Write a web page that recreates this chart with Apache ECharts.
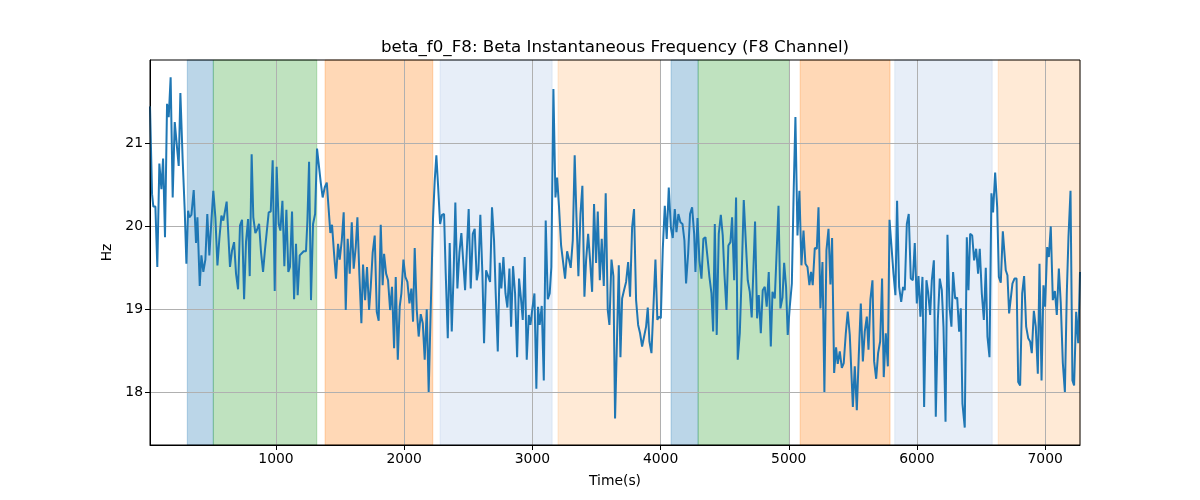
<!DOCTYPE html>
<html>
<head>
<meta charset="utf-8">
<script src="https://cdn.jsdelivr.net/npm/echarts@6/dist/echarts.min.js"></script>
<style>
html,body{margin:0;padding:0;background:#fff;}
#chart{width:1200px;height:500px;}
</style>
</head>
<body>
<div id="chart"></div>
<script>
// ---------- DATA ----------
const titleText = 'beta_f0_F8: Beta Instantaneous Frequency (F8 Channel)';
const xName = 'Time(s)';
const yName = 'Hz';
const xTicks = [1000, 2000, 3000, 4000, 5000, 6000, 7000];
const yTicks = [18, 19, 20, 21];
const xRange = [17, 7272];
const yRange = [17.36, 22.01];

const times = [
 17, 33, 43, 59, 74, 90, 106, 119, 134, 150, 163, 178, 194, 210, 225, 241, 254, 272, 288, 301, 314, 324, 340, 358, 376, 387, 405, 418, 433, 449, 464, 480, 496, 511, 527, 543, 558, 574, 589, 615,
 641, 657, 673, 688, 704, 719, 735, 751, 766, 782, 795, 810, 823, 839, 852, 868, 883, 899, 914, 927, 943, 959, 974, 990, 1005, 1021, 1034, 1050, 1065, 1081, 1096, 1109, 1125, 1141, 1156, 1169, 1185, 1200, 1216,
 1234, 1245, 1258, 1273, 1289, 1305, 1320, 1333, 1349, 1364, 1380, 1396, 1411, 1424, 1437, 1453, 1468, 1484, 1497, 1513, 1528, 1544, 1559, 1575, 1591, 1606, 1622, 1635, 1650, 1666, 1679, 1695, 1710, 1726, 1739, 1754, 1770, 1786, 1801, 1817, 1832,
 1843, 1859, 1874, 1890, 1905, 1921, 1934, 1950, 1965, 1978, 1994, 2009, 2025, 2041, 2056, 2069, 2082, 2098, 2113, 2129, 2145, 2160, 2176, 2191, 2207, 2225, 2238, 2251, 2264, 2280, 2295, 2311, 2324, 2340, 2355, 2371, 2386, 2399, 2415, 2431, 2446,
 2459, 2475, 2488, 2503, 2519, 2535, 2550, 2566, 2579, 2594, 2610, 2623, 2639, 2654, 2670, 2685, 2701, 2714, 2730, 2745, 2758, 2774, 2790, 2805, 2821, 2834, 2849, 2865, 2881, 2896, 2912, 2925, 2940, 2956, 2972, 2985, 3000, 3016, 3031, 3044,
 3057, 3073, 3089, 3104, 3120, 3135, 3148, 3164, 3180, 3193, 3208, 3224, 3239, 3255, 3271, 3284, 3299, 3315, 3330, 3344, 3359, 3375, 3390, 3406, 3419, 3435, 3450, 3466, 3481, 3497, 3510, 3526, 3541, 3557, 3572, 3588, 3601, 3617, 3632, 3645,
 3674, 3687, 3700, 3715, 3731, 3747, 3762, 3778, 3793, 3809, 3825, 3840, 3856, 3871, 3887, 3900, 3913, 3929, 3944, 3960, 3975, 3986, 4002, 4017, 4033, 4048, 4064, 4080, 4095, 4111, 4124, 4139, 4155, 4171, 4186, 4199, 4215, 4230, 4246, 4262, 4272,
 4288, 4303, 4319, 4334, 4350, 4366, 4381, 4397, 4410, 4423, 4438, 4454, 4470, 4485, 4498, 4514, 4529, 4545, 4558, 4574, 4589, 4602, 4618, 4633, 4649, 4665, 4680, 4696, 4711, 4724, 4737, 4753, 4766, 4782, 4797, 4813, 4828, 4844, 4860, 4873,
 4891, 4904, 4920, 4935, 4951, 4964, 4979, 4992, 5008, 5024, 5039, 5052, 5068, 5083, 5099, 5115, 5130, 5146, 5161, 5174, 5187, 5203, 5219, 5232, 5247, 5263, 5278, 5294, 5310, 5325, 5338, 5354, 5369, 5382, 5398, 5414, 5429, 5445, 5460, 5476,
 5500, 5515, 5531, 5546, 5562, 5578, 5593, 5609, 5622, 5637, 5653, 5666, 5682, 5697, 5713, 5728, 5741, 5757, 5773, 5786, 5801, 5817, 5832, 5845, 5861, 5877, 5892, 5905, 5921, 5936, 5952, 5968, 5983, 5999, 6012, 6027, 6043, 6056, 6074, 6087,
 6103, 6116, 6132, 6147, 6163, 6178, 6194, 6207, 6223, 6238, 6254, 6269, 6282, 6298, 6314, 6329, 6342, 6355, 6373, 6389, 6402, 6415, 6431, 6446, 6462, 6477, 6490, 6506, 6522, 6537, 6550, 6566, 6581, 6594, 6610, 6626, 6639, 6654, 6670,
 6693, 6706, 6719, 6732, 6745, 6761, 6777, 6790, 6805, 6821, 6836, 6852, 6868, 6883, 6896, 6912, 6927, 6943, 6956, 6972, 6987, 7000, 7016, 7029, 7044, 7060, 7076, 7091, 7107, 7122, 7138, 7154, 7169, 7182, 7198, 7213, 7226, 7242, 7258, 7272
];
const freqHz = [
 21.45, 20.39, 20.24, 20.24, 19.51, 20.76, 20.45, 20.82, 19.87, 21.48, 21.32, 21.80, 20.35, 21.26, 21.00, 20.73, 21.61, 20.80, 20.19, 19.55, 20.19, 20.11, 20.14, 20.44, 19.80, 20.11, 19.28, 19.65, 19.45, 19.60, 20.15, 19.65, 20.07, 20.43, 20.11, 19.53, 19.85, 20.13, 20.07, 20.30,
 19.51, 19.71, 19.81, 19.43, 19.24, 20.01, 20.08, 19.12, 19.81, 20.09, 19.40, 20.87, 20.11, 19.92, 19.96, 20.03, 19.69, 19.45, 19.72, 19.73, 20.17, 20.18, 20.80, 19.22, 20.72, 20.03, 19.95, 20.31, 19.52, 20.20, 19.45, 19.51, 20.18, 19.12, 19.79, 19.17, 19.65, 19.66, 19.70,
 19.70, 20.07, 20.78, 19.11, 20.03, 20.15, 20.94, 20.95, 20.53, 20.35, 20.47, 20.53, 20.51, 19.92, 20.02, 19.67, 19.37, 19.79, 19.60, 19.83, 20.17, 18.99, 19.85, 19.43, 20.05, 19.49, 19.75, 20.11, 19.43, 18.83, 19.54, 19.11, 19.51, 18.99, 19.27, 19.68, 19.89, 18.97, 18.86, 20.02, 19.29,
 19.67, 19.43, 19.35, 18.99, 19.27, 18.53, 19.39, 18.39, 19.03, 19.19, 19.60, 19.39, 19.33, 19.07, 19.25, 18.85, 19.74, 18.99, 18.67, 18.94, 18.83, 18.39, 19.00, 18.00, 19.00, 20.10, 20.55, 20.86, 20.50, 20.03, 20.14, 20.15, 19.43, 18.65, 19.80, 18.73, 19.45, 20.29, 19.25, 19.69, 19.92,
 19.93, 19.23, 19.25, 20.21, 19.25, 19.91, 19.97, 19.35, 19.47, 20.14, 19.43, 18.59, 19.47, 19.48, 19.33, 20.23, 19.83, 19.19, 18.49, 19.56, 19.25, 19.63, 19.19, 19.02, 19.49, 18.79, 19.52, 19.19, 18.42, 19.37, 19.11, 18.87, 19.63, 18.39, 18.93, 18.81, 19.01, 19.19, 18.04, 19.03,
 18.81, 19.04, 18.14, 20.07, 19.12, 19.19, 19.51, 21.66, 20.35, 20.59, 20.23, 19.77, 19.75, 19.37, 19.70, 19.61, 19.50, 19.83, 20.86, 20.11, 19.40, 20.15, 20.49, 19.15, 19.59, 19.91, 19.59, 19.21, 20.27, 19.56, 20.18, 19.35, 19.85, 19.28, 20.40, 18.99, 18.81, 19.60, 19.40, 17.68,
 19.53, 18.42, 19.13, 19.23, 19.33, 19.57, 19.15, 19.99, 20.21, 19.11, 18.81, 18.71, 18.55, 18.53, 18.79, 19.02, 18.61, 18.47, 18.45, 19.60, 18.87, 18.91, 18.89, 19.72, 20.25, 19.85, 20.47, 19.99, 19.86, 20.21, 19.93, 20.15, 20.05, 20.03, 19.83, 19.31, 19.67, 20.15, 20.23, 19.91, 19.45,
 20.10, 19.59, 19.37, 19.85, 19.87, 19.63, 19.39, 19.19, 18.73, 20.03, 18.69, 19.91, 20.14, 19.89, 19.43, 18.99, 19.77, 19.81, 20.11, 19.35, 20.35, 18.39, 18.71, 19.43, 20.32, 19.81, 19.35, 19.21, 18.90, 19.47, 20.06, 18.89, 19.17, 18.71, 19.23, 19.27, 19.03, 19.45, 18.55, 19.21,
 19.13, 19.63, 20.25, 19.01, 19.14, 19.56, 19.27, 18.69, 19.03, 19.31, 20.47, 21.32, 19.89, 20.43, 19.53, 19.95, 19.55, 19.51, 19.29, 19.45, 19.29, 19.74, 19.73, 20.23, 19.01, 19.57, 18.00, 19.71, 19.97, 19.30, 19.86, 18.23, 18.54, 18.34, 18.49, 18.29, 18.35, 18.71, 18.97, 18.69,
 17.82, 18.31, 17.78, 18.43, 19.07, 18.37, 18.73, 18.91, 18.51, 19.12, 19.35, 18.37, 18.16, 18.47, 18.61, 19.37, 18.18, 18.71, 18.31, 20.08, 20.06, 19.43, 19.17, 20.31, 19.27, 19.09, 19.27, 19.23, 20.03, 20.15, 19.37, 19.35, 19.80, 19.07, 19.40, 18.91, 19.39, 17.82, 19.35, 19.21,
 18.93, 19.35, 19.59, 17.70, 18.87, 19.37, 19.23, 18.79, 17.64, 19.90, 19.03, 18.79, 19.45, 19.13, 19.14, 18.73, 19.01, 17.86, 17.57, 19.87, 19.23, 19.91, 19.89, 19.59, 19.73, 19.43, 19.73, 19.19, 18.87, 19.50, 18.67, 18.42, 20.40, 20.17, 20.65, 20.23, 19.39, 19.32, 19.94,
 19.47, 19.41, 18.95, 18.95, 19.31, 19.37, 19.37, 18.12, 18.08, 19.19, 19.40, 18.79, 18.65, 18.61, 18.47, 18.98, 18.79, 18.22, 19.55, 18.14, 19.29, 19.03, 19.75, 19.63, 20.00, 19.11, 19.22, 18.93, 19.49, 19.07, 18.35, 18.00, 19.19, 19.87, 20.43, 18.14, 18.08, 18.97, 18.59, 19.45
];

// shaded intervals (time, s) and their kind
const bandStarts = [308, 511, 1383, 2280, 3200, 4082, 4293, 5089, 5827, 6634];
const bandEnds   = [511, 1318, 2223, 3154, 3999, 4293, 5005, 5790, 6587, 7272];
const bandKinds  = ['A', 'B', 'C', 'D', 'E', 'A', 'B', 'C', 'D', 'E'];

// ---------- STYLE ----------
const kindColors = {
  A: 'rgba(31,119,180,0.3)',
  B: 'rgba(44,160,44,0.3)',
  C: 'rgba(255,127,14,0.3)',
  D: 'rgba(174,199,232,0.3)',
  E: 'rgba(255,187,120,0.3)'
};
const FONT = 'DejaVu Sans';

const chart = echarts.init(document.getElementById('chart'), null, {renderer: 'canvas'});

const lineData = times.map((t, i) => [t, freqHz[i]]);
const areas = bandStarts.map((s, i) => [
  {xAxis: s, itemStyle: {color: kindColors[bandKinds[i]], borderColor: kindColors[bandKinds[i]], borderWidth: 1}},
  {xAxis: bandEnds[i]}
]);

const axisCommon = {
  z: 2,
  axisLine: {show: true, onZero: false, lineStyle: {color: '#000', width: 1}},
  axisTick: {show: true, inside: false, length: 5, lineStyle: {color: '#000', width: 1}},
  axisLabel: {color: '#000', fontFamily: FONT, fontSize: 13.9, margin: 7, formatter: v => String(v)},
  splitLine: {show: true, lineStyle: {color: '#b0b0b0', width: 1}},
  nameTextStyle: {color: '#000', fontFamily: FONT, fontSize: 13.9}
};

chart.setOption({
  animation: false,
  backgroundColor: '#fff',
  title: {
    text: titleText,
    left: 610,
    textAlign: 'center',
    top: 34,
    textStyle: {color: '#000', fontFamily: FONT, fontSize: 16.7, fontWeight: 'normal'}
  },
  grid: {left: 150, right: 120, top: 60, bottom: 55, show: true, borderColor: '#000', borderWidth: 1, z: 10, backgroundColor: 'transparent'},
  xAxis: Object.assign({}, axisCommon, {
    type: 'value',
    min: xRange[0], max: xRange[1],
    name: xName, nameLocation: 'middle', nameGap: 29,
    axisTick: Object.assign({}, axisCommon.axisTick, {customValues: xTicks}),
    axisLabel: Object.assign({}, axisCommon.axisLabel, {customValues: xTicks}),
  }),
  yAxis: Object.assign({}, axisCommon, {
    type: 'value',
    min: yRange[0], max: yRange[1],
    name: yName, nameLocation: 'middle', nameGap: 30, nameRotate: 90,
    axisTick: Object.assign({}, axisCommon.axisTick, {customValues: yTicks}),
    axisLabel: Object.assign({}, axisCommon.axisLabel, {customValues: yTicks}),
  }),
  series: [
    {
      type: 'line',
      z: 1,
      data: [],
      silent: true,
      markArea: {silent: true, data: areas}
    },
    {
      type: 'line',
      z: 3,
      data: lineData,
      showSymbol: false,
      symbol: 'none',
      lineStyle: {color: '#1f77b4', width: 2},
      itemStyle: {color: '#1f77b4'},
      clip: true
    }
  ]
});
</script>
</body>
</html>
